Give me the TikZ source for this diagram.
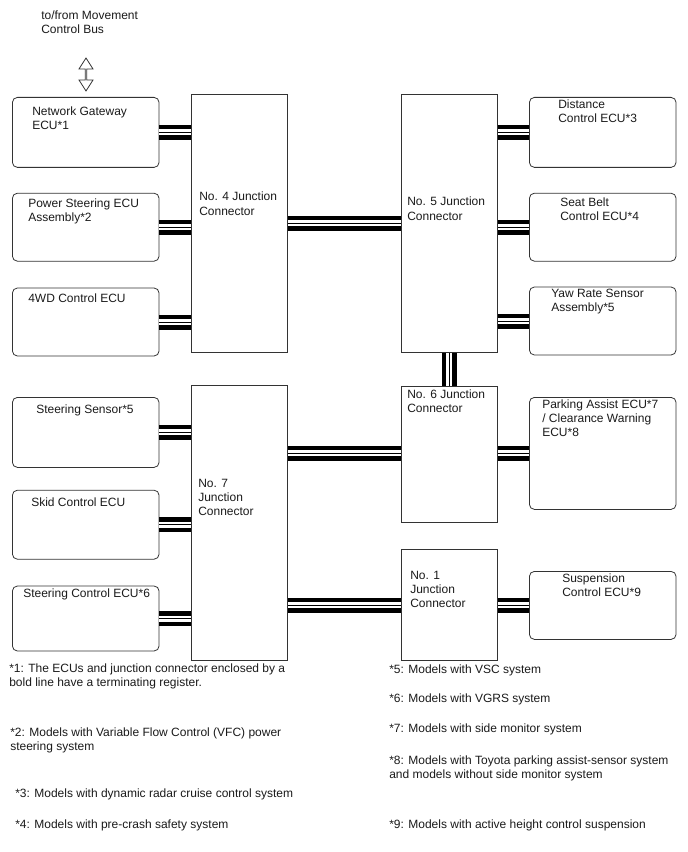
\documentclass[tikz,border=0pt]{standalone}
\usepackage{fontspec}
\setmainfont{Liberation Sans}
\usetikzlibrary{calc, positioning, shapes.arrows}
\definecolor{lineDark}{HTML}{333333}
\definecolor{textDark}{HTML}{1A1A1A}
\tikzset{
  ecuBox/.style={rectangle, rounded corners=3.75pt, draw=lineDark, line width=0.6pt,
                 minimum width=110pt, inner sep=0pt},
  jcBox/.style={rectangle, draw=lineDark, line width=0.6pt,
                minimum width=72pt, inner sep=0pt},
  lbl/.style={anchor=base west, align=left, inner sep=0pt,
              font=\fontsize{9}{10.5}\selectfont, text=textDark},
  bus/.style={draw=white, line width=4.5pt,
              preaction={draw=black, line width=11.25pt},
              postaction={draw=black, line width=0.6pt}},
}

\begin{document}
\begin{tikzpicture}[x=0.75pt, y=-0.75pt]
  \useasboundingbox (0,0) rectangle (688,852);

  % bus entry (lbl sits on the baseline of its last line)
  \node[lbl] (busTxt) at (41,34) {to/from Movement\\Control Bus};
  \node[double arrow, draw=lineDark, line width=0.6pt, rotate=90, inner sep=0pt,
        minimum height=24.75pt, minimum width=10.5pt, double arrow head extend=2.8pt,
        double arrow tip angle=65] (busArr) at (86,74.5) {};

  % left column, upper
  \node[ecuBox, anchor=north west, minimum height=52.5pt] (gw) at (12,97) {};
  \node[ecuBox, below=18.75pt of gw, minimum height=51pt] (ps) {};
  \node[ecuBox, below=19.5pt of ps, minimum height=51pt] (wd) {};
  \node[lbl] (gwT) at ($(gw.north west)+(20,33)$) {Network Gateway\\ECU*1};
  \node[lbl] (psT) at ($(ps.north west)+(16,29)$) {Power Steering ECU\\Assembly*2};
  \node[lbl] (wdT) at ($(wd.north west)+(16,15)$) {4WD Control ECU};

  % left column, lower
  \node[ecuBox, anchor=north west, minimum height=52.5pt] (ss) at (12,397) {};
  \node[ecuBox, below=16.5pt of ss, minimum height=51.75pt] (skid) {};
  \node[ecuBox, below=19.5pt of skid, minimum height=48.75pt] (sc) {};
  \node[lbl] (ssT) at ($(ss.north west)+(24,16)$) {Steering Sensor*5};
  \node[lbl] (skidT) at ($(skid.north west)+(19,17)$) {Skid Control ECU};
  \node[lbl] (scT) at ($(sc.north west)+(11,12)$) {Steering Control ECU*6};

  % junction connectors
  \node[jcBox, anchor=north west, minimum height=193.5pt] (j4) at (191,94) {};
  \node[jcBox, anchor=north west, minimum height=193.5pt] (j5) at (401,94) {};
  \node[jcBox, anchor=north west, minimum height=102pt] (j6) at (401,386) {};
  \node[jcBox, anchor=north west, minimum height=206.25pt] (j7) at (191,385) {};
  \node[jcBox, anchor=north west, minimum height=83.25pt] (j1) at (401,549) {};
  \node[lbl] (j4T) at ($(j4.north west)+(8,121)$) {No. 4 Junction\\Connector};
  \node[lbl] (j5T) at ($(j5.north west)+(6,126)$) {No. 5 Junction\\Connector};
  \node[lbl] (j6T) at ($(j6.north west)+(6,26)$) {No. 6 Junction\\Connector};
  \node[lbl] (j7T) at ($(j7.north west)+(7,130)$) {No. 7\\Junction\\Connector};
  \node[lbl] (j1T) at ($(j1.north west)+(9,58)$) {No. 1\\Junction\\Connector};

  % right column
  \node[ecuBox, anchor=north west, minimum height=52.5pt] (dist) at (529,97) {};
  \node[ecuBox, below=18.75pt of dist, minimum height=51pt] (seat) {};
  \node[ecuBox, below=18.75pt of seat, minimum height=51pt] (yaw) {};
  \node[ecuBox, anchor=north west, minimum height=84pt] (park) at (529,397) {};
  \node[ecuBox, anchor=north west, minimum height=51pt] (susp) at (529,571) {};
  \node[lbl] (distT) at ($(dist.north west)+(29,26)$) {Distance\\Control ECU*3};
  \node[lbl] (seatT) at ($(seat.north west)+(31,28)$) {Seat Belt\\Control ECU*4};
  \node[lbl] (yawT) at ($(yaw.north west)+(22,25)$) {Yaw Rate Sensor\\Assembly*5};
  \node[lbl] (parkT) at ($(park.north west)+(13,39)$) {Parking Assist ECU*7\\/ Clearance Warning\\ECU*8};
  \node[lbl] (suspT) at ($(susp.north west)+(33,25)$) {Suspension\\Control ECU*9};

  % bus lines
  \draw[bus] (gw.east) -- (gw.east -| j4.west);
  \draw[bus] (ps.east) -- (ps.east -| j4.west);
  \draw[bus] (wd.east) -- (wd.east -| j4.west);
  \draw[bus] (j4.east) -- (j4.east -| j5.west);
  \draw[bus] (j5.east |- dist.west) -- (dist.west);
  \draw[bus] (j5.east |- seat.west) -- (seat.west);
  \draw[bus] (j5.east |- yaw.west) -- (yaw.west);
  \draw[bus] (j5.south) -- (j5.south |- j6.north);
  \draw[bus] (ss.east) -- (ss.east -| j7.west);
  \draw[bus] (skid.east) -- (skid.east -| j7.west);
  \draw[bus] (sc.east) -- (sc.east -| j7.west);
  \draw[bus] (j7.east |- park.west) -- (j6.west |- park.west);
  \draw[bus] (j6.east |- park.west) -- (park.west);
  \draw[bus] (j7.east |- susp.west) -- (j1.west |- susp.west);
  \draw[bus] (j1.east |- susp.west) -- (susp.west);

  % notes
  \node[lbl] (fn1) at (9,686) {*1: The ECUs and junction connector enclosed by a\\bold line have a terminating register.};
  \node[lbl] (fn2) at (10,750) {*2: Models with Variable Flow Control (VFC) power\\steering system};
  \node[lbl] (fn3) at (15,797) {*3: Models with dynamic radar cruise control system};
  \node[lbl] (fn4) at (15,828) {*4: Models with pre-crash safety system};
  \node[lbl] (fn5) at (389,673) {*5: Models with VSC system};
  \node[lbl] (fn6) at (389,702) {*6: Models with VGRS system};
  \node[lbl] (fn7) at (389,732) {*7: Models with side monitor system};
  \node[lbl] (fn8) at (389,778) {*8: Models with Toyota parking assist-sensor system\\and models without side monitor system};
  \node[lbl] (fn9) at (389,828) {*9: Models with active height control suspension};
\end{tikzpicture}
\end{document}
